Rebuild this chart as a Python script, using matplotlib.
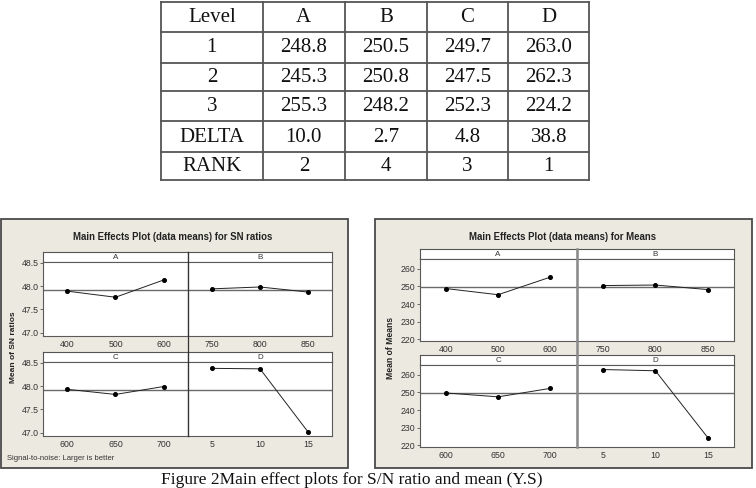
import numpy as np
import matplotlib.pyplot as plt
from matplotlib.patches import Rectangle

# factor levels and responses
factors = ['A', 'B', 'C', 'D']
levels_A = [400, 500, 600]
levels_B = [750, 800, 850]
levels_C = [600, 650, 700]
levels_D = [5, 10, 15]

means_A = [248.8, 245.3, 255.3]
means_B = [250.5, 250.8, 248.2]
means_C = [249.7, 247.5, 252.3]
means_D = [263.0, 262.3, 224.2]

sn_A = [47.89, 47.76, 48.13]
sn_B = [47.94, 47.98, 47.87]
sn_C = [47.93, 47.82, 47.99]
sn_D = [48.38, 48.37, 47.01]

delta = ['10.0', '2.7', '4.8', '38.8']
rank = ['2', '4', '3', '1']
sn_mean = 47.92
means_mean = 249.8

W, H = 756, 488
fig = plt.figure(figsize=(W / 100, H / 100), dpi=100)
fig.patch.set_facecolor('white')


def px_axes(x0, y0, x1, y1):
    return fig.add_axes([x0 / W, 1 - y1 / H, (x1 - x0) / W, (y1 - y0) / H])


bg = px_axes(0, 0, W, H)
bg.set_xlim(0, W)
bg.set_ylim(H, 0)
bg.axis('off')

## table
col_x = [161, 262.7, 345, 426.7, 508.3, 589.3]
row_y = [1.5, 31.7, 63.3, 90.7, 120.7, 152.3, 180]
tcol = '#555555'
for x in col_x:
    bg.plot([x, x], [row_y[0], row_y[-1]], color=tcol, lw=1.3)
for y in row_y:
    bg.plot([col_x[0], col_x[-1]], [y, y], color=tcol, lw=1.3)

rows = [['Level'] + factors]
cols = [means_A, means_B, means_C, means_D]
for i in range(3):
    rows.append([str(i + 1)] + ['%.1f' % c[i] for c in cols])
rows.append(['DELTA'] + delta)
rows.append(['RANK'] + rank)
for r, row in enumerate(rows):
    yc = 0.5 * (row_y[r] + row_y[r + 1]) + 0.5
    for c, txt in enumerate(row):
        xc = 0.5 * (col_x[c] + col_x[c + 1])
        bg.text(xc, yc, txt, ha='center', va='center', fontsize=15,
                family='Liberation Serif', color='#111111')

## caption (cut at the bottom in the original, keep it just inside here)
bg.text(352, 483.5, 'Figure 2Main effect plots for S/N ratio and mean (Y.S)',
        ha='center', va='baseline', fontsize=12.5, family='Liberation Serif',
        color='#111111')

beige = '#ece9e0'
bg.add_patch(Rectangle((0.8, 219.3), 347.5, 249, facecolor=beige, edgecolor='#4a4a4a', lw=1.3))
bg.add_patch(Rectangle((374.5, 219.3), 377.5, 249, facecolor=beige, edgecolor='#4a4a4a', lw=1.3))

sans = ['Liberation Sans', 'DejaVu Sans']


def main_effects(cols_px, row_tops, row_h, ylim, yticks, ylab, data, ref):
    strip_h = 10
    level_sets = [levels_A, levels_B, levels_C, levels_D]
    for k in range(4):
        r, c = divmod(k, 2)
        x0, x1 = cols_px[c]
        top = row_tops[r]
        st = px_axes(x0, top, x1, top + strip_h)
        st.set_xticks([])
        st.set_yticks([])
        for s in st.spines.values():
            s.set_color('#555555')
            s.set_linewidth(0.8)
        st.text(0.5, 0.45, factors[k], transform=st.transAxes, ha='center',
                va='center', fontsize=5.8, family=sans, color='#333333')

        ax = px_axes(x0, top + strip_h, x1, top + row_h)
        lv = level_sets[k]
        step = lv[1] - lv[0]
        ax.set_xlim(lv[0] - step / 2, lv[-1] + step / 2)
        ax.set_ylim(*ylim)
        ax.axhline(ref, color='#6a6a6a', lw=1.0, zorder=1)
        ax.plot(lv, data[k], color='#222222', lw=0.7, marker='o', ms=2.6,
                mfc='black', mec='black', zorder=3)
        ax.set_xticks(lv)
        ax.set_xticklabels([str(v) for v in lv], fontsize=6.3, family=sans,
                           color='#333333')
        ax.tick_params(axis='x', length=0, pad=3.4)
        if c == 0:
            ax.set_yticks(yticks)
            ax.set_yticklabels(ylab, fontsize=6.3, family=sans, color='#333333')
            ax.tick_params(axis='y', length=2, width=0.6, color='#555555', pad=1.2)
        else:
            ax.set_yticks([])
        for s in ax.spines.values():
            s.set_color('#5a5a5a')
            s.set_linewidth(0.8)


main_effects([(43.3, 187.7), (187.7, 332.3)], [252.3, 352.3], 83.4,
             (46.934, 48.51), [47.0, 47.5, 48.0, 48.5],
             ['47.0', '47.5', '48.0', '48.5'], [sn_A, sn_B, sn_C, sn_D], sn_mean)
main_effects([(419.7, 576.5), (576.5, 734.3)], [249.3, 355.3], 91.4,
             (219.2, 265.4), [220, 230, 240, 250, 260],
             ['220', '230', '240', '250', '260'],
             [means_A, means_B, means_C, means_D], means_mean)

ov = px_axes(0, 0, W, H)
ov.set_xlim(0, W)
ov.set_ylim(H, 0)
ov.axis('off')
ov.patch.set_alpha(0)
ov.plot([187.7, 187.7], [252.3, 435.7], color='#333333', lw=0.9)
ov.plot([576.5, 576.5], [249.3, 446.7], color='#8a8a8a', lw=1.8)

ov.text(173, 237.5, 'Main Effects Plot (data means) for SN ratios', ha='center',
        va='center', fontsize=6.9, fontweight='bold', family=sans, color='#222222')
ov.text(563, 237.5, 'Main Effects Plot (data means) for Means', ha='center',
        va='center', fontsize=6.9, fontweight='bold', family=sans, color='#222222')
ov.text(14, 347, 'Mean of SN ratios', rotation=90, ha='center', va='center',
        fontsize=6.0, fontweight='bold', family=sans, color='#222222')
ov.text(390.7, 348, 'Mean of Means', rotation=90, ha='center', va='center',
        fontsize=6.2, fontweight='bold', family=sans, color='#222222')
ov.text(7, 459, 'Signal-to-noise: Larger is better', ha='left', va='center',
        fontsize=5.5, family=sans, color='#333333')

fig.savefig('out.png', dpi=100, facecolor='white')
